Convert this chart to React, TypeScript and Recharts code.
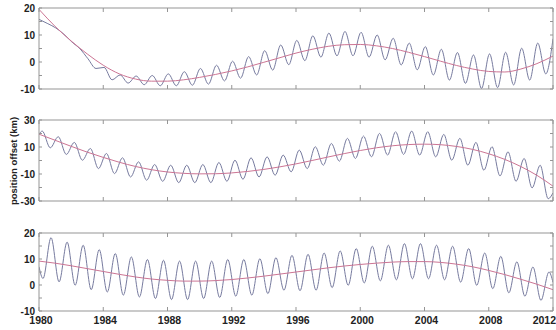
import { Line, LineChart, XAxis, YAxis } from 'recharts'

// trend curves are read once per year
const trendYears = [
  1980, 1981, 1982, 1983, 1984, 1985, 1986, 1987, 1988, 1989, 1990, 1991, 1992, 1993, 1994, 1995, 1996,
  1997, 1998, 1999, 2000, 2001, 2002, 2003, 2004, 2005, 2006, 2007, 2008, 2009, 2010, 2011, 2012,
]
const yearTicks = [1980, 1984, 1988, 1992, 1996, 2000, 2004, 2008, 2012]

// panel 1: offsets at the turning points of the seasonal wiggle
const p1Time = [
  1980, 1980.55, 1981.05, 1981.55, 1982.05, 1982.55, 1983.05, 1983.55, 1984.05, 1984.55, 1985.05, 1985.55,
  1986.05, 1986.55, 1987.05, 1987.55, 1988.05, 1988.55, 1989.05, 1989.55, 1990.05, 1990.55, 1991.05,
  1991.55, 1992.05, 1992.55, 1993.05, 1993.55, 1994.05, 1994.55, 1995.05, 1995.55, 1996.05, 1996.55,
  1997.05, 1997.55, 1998.05, 1998.55, 1999.05, 1999.55, 2000.05, 2000.55, 2001.05, 2001.55, 2002.05,
  2002.55, 2003.05, 2003.55, 2004.05, 2004.55, 2005.05, 2005.55, 2006.05, 2006.55, 2007.05, 2007.55,
  2008.05, 2008.55, 2009.05, 2009.55, 2010.05, 2010.55, 2011.05, 2011.55, 2012,
]
const p1Offset = [
  15.8, 14.2, 12.6, 10.3, 7.4, 4.9, 1.2, -2.4, -2.0, -6.6, -4.8, -7.8, -5.2, -8.4, -5.0, -8.8, -4.4,
  -8.8, -3.6, -8.6, -2.4, -8.2, -1.2, -7.0, 0.3, -6.0, 2.0, -4.8, 4.2, -3.0, 6.3, -1.0, 8.0, 0.5, 9.7,
  1.8, 10.7, 2.3, 11.3, 2.3, 11.0, 1.8, 10.0, 0.8, 8.8, -1.1, 7.0, -2.9, 5.7, -4.8, 4.7, -6.7, 3.5, -7.9,
  2.6, -9.8, 3.0, -9.5, 3.6, -8.5, 5.1, -6.7, 7.0, -4.4, 8.6,
]
const p1Trend = [
  19.5, 13.2, 7.8, 3.0, -1.2, -4.4, -6.3, -7.1, -7.1, -6.6, -5.7, -4.6, -3.3, -1.8, -0.1, 1.6, 3.3, 4.7,
  5.8, 6.4, 6.5, 6.0, 5.0, 3.6, 2.0, 0.3, -1.3, -2.6, -3.5, -3.7, -2.6, -0.6, 2.2,
]

// panel 2
const p2Time = [
  1980, 1980.2, 1980.7, 1981.2, 1981.7, 1982.2, 1982.7, 1983.2, 1983.7, 1984.2, 1984.7, 1985.2, 1985.7,
  1986.2, 1986.7, 1987.2, 1987.7, 1988.2, 1988.7, 1989.2, 1989.7, 1990.2, 1990.7, 1991.2, 1991.7, 1992.2,
  1992.7, 1993.2, 1993.7, 1994.2, 1994.7, 1995.2, 1995.7, 1996.2, 1996.7, 1997.2, 1997.7, 1998.2, 1998.7,
  1999.2, 1999.7, 2000.2, 2000.7, 2001.2, 2001.7, 2002.2, 2002.7, 2003.2, 2003.7, 2004.2, 2004.7, 2005.2,
  2005.7, 2006.2, 2006.7, 2007.2, 2007.7, 2008.2, 2008.7, 2009.2, 2009.7, 2010.2, 2010.7, 2011.2, 2011.7,
  2012,
]
const p2Offset = [
  19.3, 21.8, 9.4, 17.6, 4.5, 13.4, 0.2, 8.9, -6.0, 5.2, -9.7, 2.0, -12.2, -1.0, -14.6, -3.0, -15.4, -3.5,
  -16.4, -3.5, -16.4, -3.0, -16.4, -1.5, -15.4, 0.2, -13.9, 2.0, -12.2, 2.7, -10.9, 4.0, -8.4, 7.7, -6.0,
  10.2, -3.5, 12.6, -0.5, 16.4, 1.5, 18.1, 2.7, 20.1, 4.0, 21.3, 4.5, 21.8, 4.0, 21.3, 2.7, 19.3, 0.2,
  16.4, -3.5, 13.4, -7.2, 10.2, -11.4, 6.4, -15.4, 1.5, -20.3, -3.5, -28.3, -24,
]
const p2Trend = [
  19.5, 15.0, 10.5, 6.2, 2.3, -1.3, -4.4, -6.8, -8.5, -9.5, -9.9, -9.8, -9.2, -8.1, -6.6, -4.7, -2.5, 0.0,
  2.6, 5.1, 7.4, 9.4, 10.9, 11.8, 12.1, 11.7, 10.4, 8.2, 5.0, 0.8, -4.5, -11.0, -19.0,
]

// panel 3
const p3Time = [
  1980, 1980.25, 1980.75, 1981.25, 1981.75, 1982.25, 1982.75, 1983.25, 1983.75, 1984.25, 1984.75, 1985.25,
  1985.75, 1986.25, 1986.75, 1987.25, 1987.75, 1988.25, 1988.75, 1989.25, 1989.75, 1990.25, 1990.75,
  1991.25, 1991.75, 1992.25, 1992.75, 1993.25, 1993.75, 1994.25, 1994.75, 1995.25, 1995.75, 1996.25,
  1996.75, 1997.25, 1997.75, 1998.25, 1998.75, 1999.25, 1999.75, 2000.25, 2000.75, 2001.25, 2001.75,
  2002.25, 2002.75, 2003.25, 2003.75, 2004.25, 2004.75, 2005.25, 2005.75, 2006.25, 2006.75, 2007.25,
  2007.75, 2008.25, 2008.75, 2009.25, 2009.75, 2010.25, 2010.75, 2011.25, 2011.75, 2012,
]
const p3Offset = [
  7.0, 2.5, 18.2, 1.2, 16.5, -0.1, 15.3, -1.8, 13.6, -2.7, 12.1, -3.9, 10.8, -4.6, 9.8, -5.2, 9.5, -5.6,
  9.2, -5.6, 9.2, -5.2, 9.2, -4.8, 9.8, -4.3, 9.8, -3.9, 10.1, -3.3, 10.5, -2.0, 11.4, -2.2, 11.8, -2.0,
  12.3, -1.0, 13.1, -0.1, 14.0, 0.8, 14.9, 1.6, 15.3, 2.0, 15.9, 2.4, 15.9, 2.4, 15.3, 2.0, 14.9, 1.1,
  14.0, -0.1, 12.3, -1.4, 11.0, -3.0, 8.9, -4.3, 6.9, -5.9, 5.0, 1.0,
]
const p3Trend = [
  9.2, 8.4, 7.4, 6.3, 5.2, 4.1, 3.1, 2.3, 1.8, 1.5, 1.5, 1.7, 2.1, 2.7, 3.4, 4.2, 5.0, 5.8, 6.6, 7.3, 7.9,
  8.4, 8.8, 9.0, 9.0, 8.7, 8.0, 7.0, 5.6, 4.0, 2.2, 0.3, -1.8,
]

const FONT = '"Liberation Sans", Arial, sans-serif'
const FRAME = '#959595'
const BLUE = '#777b9f'
const RED = '#cc7594'

const zip = (t: number[], v: number[]) => t.map((x, i) => ({ t: x, v: v[i] }))

const bottomTick = (showLabel: boolean) => (props: any) => {
  const { x, y, payload } = props
  const last = payload.value === 2012
  return (
    <g>
      <line x1={x} x2={x} y1={y} y2={y - 4} stroke={FRAME} />
      {showLabel && (
        <text
          x={last ? 556 : x + 2}
          y={y + 13}
          textAnchor={last ? 'end' : 'middle'}
          fontFamily={FONT}
          fontWeight="bold"
          fontSize={10.5}
          fill="#222"
        >
          {payload.value}
        </text>
      )}
    </g>
  )
}

const topTick = (props: any) => {
  const { x, y } = props
  return <line x1={x} x2={x} y1={y} y2={y + 4} stroke={FRAME} />
}

const leftTick = (labels: number[]) => (props: any) => {
  const { x, y, payload } = props
  return (
    <g>
      <line x1={x} x2={x + 3} y1={y} y2={y} stroke={FRAME} />
      {labels.includes(payload.value) && (
        <text x={x - 4} y={y + 3.5} textAnchor="end" fontFamily={FONT} fontWeight="bold" fontSize={10} fill="#222">
          {payload.value}
        </text>
      )}
    </g>
  )
}

const rightTick = (props: any) => {
  const { x, y } = props
  return <line x1={x} x2={x - 3} y1={y} y2={y} stroke={FRAME} />
}

type PanelProps = {
  top: number
  height: number
  margin: { top: number; right: number; bottom: number; left: number }
  time: number[]
  offset: number[]
  trend: number[]
  domain: [number, number]
  ticks: number[]
  labels: number[]
  showYears?: boolean
}

// axes are 1px thick so recharts still draws them; margins are 1px smaller to compensate
function Panel({ top, height, margin, time, offset, trend, domain, ticks, labels, showYears }: PanelProps) {
  return (
    <div style={{ position: 'absolute', left: 0, top }}>
      <LineChart width={556} height={height} margin={margin}>
        <XAxis
          xAxisId="b"
          dataKey="t"
          type="number"
          domain={[1980, 2012]}
          ticks={yearTicks}
          interval={0}
          height={1}
          tickSize={0}
          tickMargin={0}
          tickLine={false}
          axisLine={{ stroke: FRAME }}
          tick={bottomTick(!!showYears)}
          allowDataOverflow
        />
        <XAxis
          xAxisId="t"
          orientation="top"
          dataKey="t"
          type="number"
          domain={[1980, 2012]}
          ticks={yearTicks}
          interval={0}
          height={1}
          tickSize={0}
          tickMargin={0}
          tickLine={false}
          axisLine={{ stroke: FRAME }}
          tick={topTick}
          allowDataOverflow
        />
        <YAxis
          yAxisId="l"
          type="number"
          domain={domain}
          ticks={ticks}
          interval={0}
          width={1}
          tickSize={0}
          tickMargin={0}
          tickLine={false}
          axisLine={{ stroke: FRAME }}
          tick={leftTick(labels)}
          allowDataOverflow
        />
        <YAxis
          yAxisId="r"
          orientation="right"
          type="number"
          domain={domain}
          ticks={ticks}
          interval={0}
          width={1}
          tickSize={0}
          tickMargin={0}
          tickLine={false}
          axisLine={{ stroke: FRAME }}
          tick={rightTick}
          allowDataOverflow
        />
        <Line
          data={zip(time, offset)}
          dataKey="v"
          xAxisId="b"
          yAxisId="l"
          type="monotone"
          stroke={BLUE}
          strokeWidth={1}
          dot={false}
          isAnimationActive={false}
        />
        <Line
          data={zip(trendYears, trend)}
          dataKey="v"
          xAxisId="b"
          yAxisId="l"
          type="monotone"
          stroke={RED}
          strokeWidth={1}
          dot={false}
          isAnimationActive={false}
        />
      </LineChart>
    </div>
  )
}

export default function App() {
  return (
    <div style={{ position: 'absolute', left: 0, top: 0, width: 556, height: 330, background: '#fff' }}>
      <Panel
        top={0}
        height={100}
        margin={{ top: 7, right: 2, bottom: 10, left: 38 }}
        time={p1Time}
        offset={p1Offset}
        trend={p1Trend}
        domain={[-10, 20]}
        ticks={[-10, -5, 0, 5, 10, 15, 20]}
        labels={[-10, 0, 10, 20]}
      />
      <Panel
        top={112}
        height={100}
        margin={{ top: 7, right: 2, bottom: 10, left: 38 }}
        time={p2Time}
        offset={p2Offset}
        trend={p2Trend}
        domain={[-30, 30]}
        ticks={[-30, -20, -10, 0, 10, 20, 30]}
        labels={[-30, -10, 10, 30]}
      />
      <Panel
        top={224}
        height={106}
        margin={{ top: 8, right: 2, bottom: 18, left: 38 }}
        time={p3Time}
        offset={p3Offset}
        trend={p3Trend}
        domain={[-10, 20]}
        ticks={[-10, -5, 0, 5, 10, 15, 20]}
        labels={[-10, 0, 10, 20]}
        showYears
      />
      <svg width={30} height={330} style={{ position: 'absolute', left: 0, top: 0 }}>
        <text
          x={0}
          y={0}
          transform="translate(17,161) rotate(-90)"
          textAnchor="middle"
          fontFamily={FONT}
          fontWeight="bold"
          fontSize={9.5}
          fill="#222"
        >
          position offset (km)
        </text>
      </svg>
    </div>
  )
}
